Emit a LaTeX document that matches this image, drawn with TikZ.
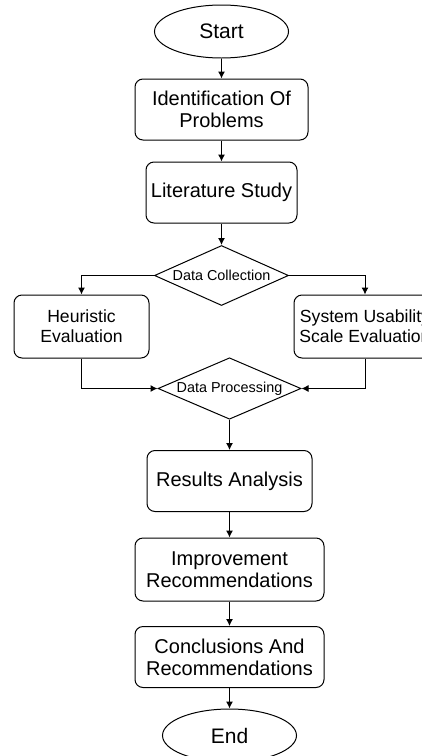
\documentclass[tikz,border=0pt]{standalone}
\usepackage{fontspec}
\setmainfont{Liberation Sans}
\usetikzlibrary{shapes.geometric,arrows.meta}
\begin{document}
\begin{tikzpicture}[x=0.5pt,y=-0.5pt,line width=0.5pt,
  term/.style={draw,ellipse,inner sep=0pt,minimum width=67pt,minimum height=26.5pt,font=\fontsize{10.5}{12}\selectfont},
  stepbox/.style={draw,rounded corners=4pt,inner sep=0pt,align=center,minimum height=30.5pt,font=\fontsize{10}{11}\selectfont},
  evalbox/.style={stepbox,minimum height=31.5pt,font=\fontsize{8.8}{10}\selectfont},
  choice/.style={draw,diamond,aspect=2.2,inner sep=0pt,minimum height=30pt,font=\fontsize{7.2}{8}\selectfont},
  arr/.style={-{Latex[length=3.5pt,width=3.5pt]}}]
\clip (0,0) rectangle (422,756);
\node[term] (start) at (221.5,31.5) {Start};
\node[stepbox,minimum width=86.5pt] (ident) at (221.5,109.5) {Identification Of\\Problems};
\node[stepbox,minimum width=75.5pt] (lit) at (221.5,192.5) {Literature Study};
\node[choice,minimum width=67pt] (coll) at (221.5,275.5) {Data Collection};
\node[evalbox,minimum width=67.5pt] (heur) at (81.5,326.5) {Heuristic\\Evaluation};
\node[evalbox,minimum width=71pt] (sus) at (365,326.5) {System Usability\\Scale Evaluation};
\node[choice,minimum width=71.5pt] (proc) at (229.5,388.5) {Data Processing};
\node[stepbox,minimum width=82.5pt] (res) at (229.5,481) {Results Analysis};
\node[stepbox,minimum width=94.5pt,minimum height=31.5pt] (impr) at (229.5,569.5) {Improvement\\Recommendations};
\node[stepbox,minimum width=94.5pt] (concl) at (229.5,657) {Conclusions And\\Recommendations};
\node[term] (end) at (229.5,735.5) {End};
\draw[arr] (start) -- (ident);
\draw[arr] (ident) -- (lit);
\draw[arr] (lit) -- (coll);
\draw[arr] (coll.west) -| (heur.north);
\draw[arr] (coll.east) -| (sus.north);
\draw[arr] (heur.south) |- (proc.west);
\draw[arr] (sus.south) |- (proc.east);
\draw[arr] (proc) -- (res);
\draw[arr] (res) -- (impr);
\draw[arr] (impr) -- (concl);
\draw[arr] (concl) -- (end);
\end{tikzpicture}
\end{document}
